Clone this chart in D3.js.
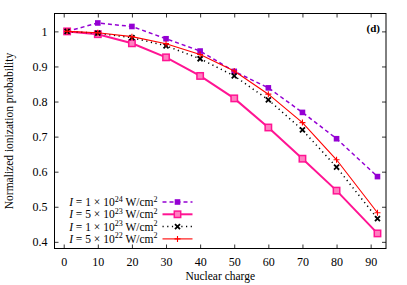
<!DOCTYPE html>
<html>
<head>
<meta charset="utf-8">
<script src="https://cdn.jsdelivr.net/npm/d3@7"></script>
<style>
  body { margin: 0; background: #fff; }
  text { font-family: "Liberation Serif", "DejaVu Serif", serif; }
</style>
</head>
<body>
<script>
var outerWidth = 407,
    outerHeight = 285,
    margin = {top: 13.5, right: 21, bottom: 36.5, left: 54.5},
    width = outerWidth - margin.left - margin.right,
    height = outerHeight - margin.top - margin.bottom;

// nuclear charge Z
var charges = [1, 10, 20, 30, 40, 50, 60, 70, 80, 92];
var xTicks = [0, 10, 20, 30, 40, 50, 60, 70, 80, 90];
var yTicks = [0.4, 0.5, 0.6, 0.7, 0.8, 0.9, 1];

var i1e24 = [1.000, 1.024, 1.014, 0.979, 0.944, 0.886, 0.839, 0.769, 0.694, 0.586];
var i5e23 = [1.000, 0.992, 0.966, 0.926, 0.873, 0.809, 0.726, 0.637, 0.546, 0.424];
var i1e23 = [1.000, 0.995, 0.982, 0.959, 0.922, 0.873, 0.805, 0.719, 0.613, 0.466];
var i5e22 = [1.000, 0.996, 0.985, 0.965, 0.934, 0.887, 0.821, 0.740, 0.634, 0.483];

var series = [
  {mant: '1', exp: '24', vals: i1e24, color: '#9400d3', width: 1.5, dash: '4,3', mark: 'fsq'},
  {mant: '5', exp: '23', vals: i5e23, color: '#ff1493', width: 2, dash: null, mark: 'osq'},
  {mant: '1', exp: '23', vals: i1e23, color: '#000000', width: 1.5, dash: '1.2,3.5', mark: 'x'},
  {mant: '5', exp: '22', vals: i5e22, color: '#ff0000', width: 1.1, dash: null, mark: 'plus'}
];

var svg = d3.select('body').append('svg')
    .attr('width', outerWidth)
    .attr('height', outerHeight);

var g = svg.append('g')
    .attr('transform', 'translate(' + margin.left + ',' + margin.top + ')');

var x = d3.scaleLinear().domain([-2.7, 94.5]).range([0, width]);
var y = d3.scaleLinear().domain([0.381, 1.051]).range([height, 0]);

// axes, ticks inside on all four sides
var tl = 4;
g.append('g').attr('transform', 'translate(0,' + height + ')')
    .call(d3.axisBottom(x).tickValues(xTicks).tickSize(-tl).tickPadding(9).tickFormat(d3.format('d')));
g.append('g')
    .call(d3.axisTop(x).tickValues(xTicks).tickSize(-tl).tickFormat(''));
g.append('g')
    .call(d3.axisLeft(y).tickValues(yTicks).tickSize(-tl).tickPadding(7).tickFormat(function(d) { return d === 1 ? '1' : d3.format('.1f')(d); }));
g.append('g').attr('transform', 'translate(' + width + ',0)')
    .call(d3.axisRight(y).tickValues(yTicks).tickSize(-tl).tickFormat(''));

g.selectAll('.domain').remove();
g.selectAll('.tick line').attr('stroke', '#000').attr('stroke-width', 0.8);
g.selectAll('.tick text').attr('font-family', '"Liberation Serif", serif').attr('font-size', 12).attr('fill', '#000');

g.append('rect')
    .attr('width', width)
    .attr('height', height)
    .attr('fill', 'none')
    .attr('stroke', '#000')
    .attr('stroke-width', 1);

// axis labels
svg.append('text')
    .attr('x', margin.left + width / 2)
    .attr('y', 280)
    .attr('text-anchor', 'middle')
    .attr('font-size', 11.5)
    .text('Nuclear charge');

svg.append('text')
    .attr('transform', 'translate(13,' + (margin.top + height / 2) + ') rotate(-90)')
    .attr('text-anchor', 'middle')
    .attr('font-size', 11.5)
    .text('Normalized ionization probability');

g.append('text')
    .attr('x', width - 6)
    .attr('y', 18)
    .attr('text-anchor', 'end')
    .attr('font-weight', 'bold')
    .attr('font-size', 11)
    .text('(d)');

function drawMark(sel, type, color) {
  if (type === 'fsq') {
    sel.append('rect').attr('x', -2.8).attr('y', -2.8).attr('width', 5.6).attr('height', 5.6)
      .attr('fill', color);
  } else if (type === 'osq') {
    sel.append('rect').attr('x', -3.2).attr('y', -3.2).attr('width', 6.4).attr('height', 6.4)
      .attr('fill', '#ff80c0').attr('stroke', color).attr('stroke-width', 1.5);
  } else if (type === 'x') {
    sel.append('path').attr('d', 'M-2.5,-2.5L2.5,2.5M-2.5,2.5L2.5,-2.5')
      .attr('stroke', color).attr('stroke-width', 1.8);
  } else {
    sel.append('path').attr('d', 'M-3,0H3M0,-3V3')
      .attr('stroke', color).attr('stroke-width', 1.1);
  }
}

var line = d3.line()
    .x(function(d) { return x(d[0]); })
    .y(function(d) { return y(d[1]); });

series.forEach(function(s) {
  var pts = charges.map(function(c, i) { return [c, s.vals[i]]; });
  g.append('path')
      .datum(pts)
      .attr('d', line)
      .attr('fill', 'none')
      .attr('stroke', s.color)
      .attr('stroke-width', s.width)
      .attr('stroke-dasharray', s.dash);
  g.selectAll(null)
      .data(pts)
      .enter().append('g')
      .attr('transform', function(d) { return 'translate(' + x(d[0]) + ',' + y(d[1]) + ')'; })
      .each(function() { drawMark(d3.select(this), s.mark, s.color); });
});

// legend
var legend = g.append('g');
series.forEach(function(s, i) {
  var ly = 188.5 + i * 12.3;
  var t = legend.append('text')
      .attr('x', 103)
      .attr('y', ly + 4)
      .attr('text-anchor', 'end')
      .attr('font-size', 11.5);
  t.append('tspan').attr('font-style', 'italic').text('I');
  t.append('tspan').text(' = ' + s.mant + ' \u00d7 10');
  t.append('tspan').attr('font-size', 8).attr('dy', -4.5).text(s.exp);
  t.append('tspan').attr('dy', 4.5).text(' W/cm');
  t.append('tspan').attr('font-size', 8).attr('dy', -4.5).text('2');

  legend.append('line')
      .attr('x1', 108).attr('x2', 138)
      .attr('y1', ly).attr('y2', ly)
      .attr('stroke', s.color)
      .attr('stroke-width', s.width)
      .attr('stroke-dasharray', s.dash);
  var m = legend.append('g').attr('transform', 'translate(123,' + ly + ')');
  drawMark(m, s.mark, s.color);
});
</script>
</body>
</html>
